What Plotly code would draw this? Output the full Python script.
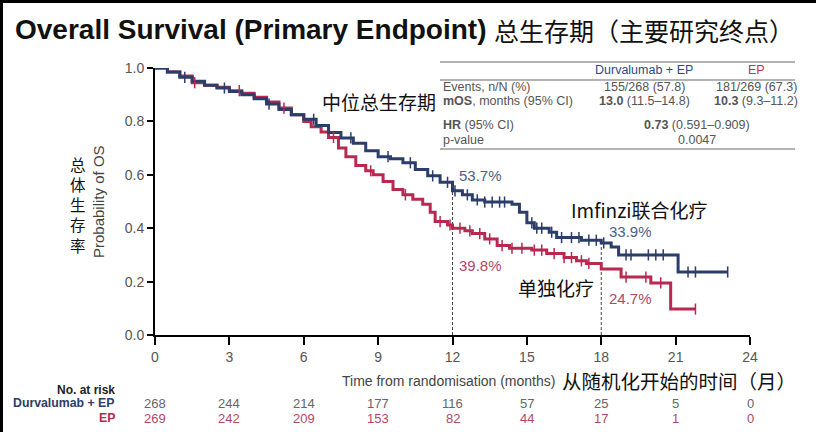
import numpy as np
import plotly.graph_objects as go

# ---------------- data ----------------
blue_t = [0, 0.5, 1.0, 1.5, 2.0, 2.5, 3.0, 3.5, 4.0, 4.5, 5.0, 5.5, 6.0, 6.5, 7.0, 7.5, 8.0, 8.5,
          9.0, 9.5, 10.0, 10.5, 11.0, 11.5, 12.0, 12.4, 12.8, 13.3, 14.4, 14.7, 15.0, 15.3, 15.9,
          16.2, 17.2, 18.0, 18.4, 18.7, 21.1, 23.1]
blue_s = [1.0, 0.985, 0.965, 0.95, 0.935, 0.925, 0.912, 0.90, 0.885, 0.865, 0.845, 0.825, 0.808,
          0.785, 0.758, 0.738, 0.718, 0.69, 0.668, 0.66, 0.645, 0.62, 0.596, 0.572, 0.54, 0.525,
          0.506, 0.498, 0.49, 0.46, 0.42, 0.40, 0.385, 0.365, 0.355, 0.345, 0.33, 0.30, 0.236, 0.236]

red_t = [0, 0.5, 1.0, 1.5, 2.0, 2.5, 3.0, 3.5, 4.0, 4.5, 5.0, 5.5, 6.0, 6.3, 6.7, 7.0, 7.4, 7.7,
         8.1, 8.5, 8.8, 9.2, 9.6, 10.0, 10.4, 10.8, 11.1, 11.3, 11.8, 12.0, 12.5, 12.8, 13.3, 13.8,
         14.3, 15.2, 15.8, 16.5, 17.0, 17.4, 18.0, 18.8, 20.0, 20.8, 21.8]
red_s = [1.0, 0.985, 0.97, 0.945, 0.935, 0.928, 0.915, 0.905, 0.89, 0.873, 0.85, 0.825, 0.80,
         0.78, 0.76, 0.74, 0.70, 0.668, 0.635, 0.615, 0.60, 0.575, 0.545, 0.525, 0.508, 0.49,
         0.46, 0.425, 0.412, 0.40, 0.39, 0.38, 0.36, 0.335, 0.325, 0.318, 0.305, 0.29, 0.278,
         0.268, 0.247, 0.217, 0.195, 0.097, 0.097]

blue_censor = [1.2, 2.8, 4.6, 6.4, 7.9, 9.4, 10.3, 11.2, 11.8, 12.1, 12.6, 13.0, 13.3, 13.6, 13.9,
               14.1, 15.2, 15.4, 15.6, 16.0, 16.4, 16.8, 17.1, 17.5, 17.8, 18.1, 19.0, 19.2,
               19.9, 20.2, 20.5, 21.5, 21.8, 23.1]
red_censor = [1.6, 3.4, 5.2, 7.2, 8.7, 10.1, 11.5, 11.9, 12.3, 12.7, 13.1, 13.5, 14.0, 14.4, 14.8,
              15.3, 15.6, 16.1, 16.5, 16.8, 17.2, 17.5, 19.0, 19.8, 20.4, 21.8]

landmark_months = [12, 18]
blue_landmark = [0.537, 0.339]
red_landmark = [0.398, 0.247]

risk_times = [0, 3, 6, 9, 12, 15, 18, 21, 24]
risk_blue = [268, 244, 214, 177, 116, 57, 25, 5, 0]
risk_red = [269, 242, 209, 153, 82, 44, 17, 1, 0]

BLUE = "#2b3d6b"
RED = "#b8284f"
BLUE_TXT = "#4d5f86"
RED_TXT = "#b0476a"
GRAY = "#555555"

W, H = 816, 432
L, R, T, B = 155, 66, 68, 97


def px(x):
    return (x - L) / (W - L - R)


def py(y):
    return (H - B - y) / (H - T - B)


def step_at(ts, ss, t):
    i = np.searchsorted(ts, t, side="right") - 1
    return ss[max(i, 0)]


SANS = "Liberation Sans, Arial, sans-serif"
NARROW = "Liberation Sans Narrow, Arial Narrow, Liberation Sans, Arial, sans-serif"
CJK = "Noto Sans CJK SC, sans-serif"

fig = go.Figure()

# dashed landmark lines
for m, v in zip(landmark_months, blue_landmark):
    fig.add_trace(go.Scatter(x=[m, m], y=[0, v], mode="lines",
                             line=dict(color="#444444", width=1, dash="3px,2px"),
                             hoverinfo="skip", showlegend=False))

fig.add_trace(go.Scatter(x=red_t, y=red_s, mode="lines", line=dict(color=RED, width=3, shape="hv"),
                         name="EP", showlegend=False))
fig.add_trace(go.Scatter(x=blue_t, y=blue_s, mode="lines", line=dict(color=BLUE, width=3, shape="hv"),
                         name="Durvalumab + EP", showlegend=False))

fig.add_trace(go.Scatter(x=red_censor, y=[step_at(red_t, red_s, t) for t in red_censor], mode="markers",
                         marker=dict(symbol="line-ns-open", size=8, color=RED,
                                     line=dict(color=RED, width=1.5)),
                         showlegend=False, hoverinfo="skip"))
fig.add_trace(go.Scatter(x=blue_censor, y=[step_at(blue_t, blue_s, t) for t in blue_censor], mode="markers",
                         marker=dict(symbol="line-ns-open", size=8, color=BLUE,
                                     line=dict(color=BLUE, width=1.5)),
                         showlegend=False, hoverinfo="skip"))

ann = []


def A(x, y, text, size=13, color=GRAY, family=SANS, xanchor="left", xref="paper", yref="paper", **kw):
    ann.append(dict(x=x, y=y, xref=xref, yref=yref, text=text, showarrow=False,
                    font=dict(size=size, color=color, family=family),
                    xanchor=xanchor, yanchor="middle", **kw))


# Title
A(px(13), py(29), "<b>Overall Survival (Primary Endpoint)</b>", size=28, color="#111111", family=SANS)
A(px(492), py(30), "总生存期（主要研究终点）", size=25, color="#111111", family=CJK)

# Stats table
TS = 12.5
C2, C3, CM = 644, 756, 697
A(px(C2), py(70), "Durvalumab + EP", size=TS, color="#2d4a85", xanchor="center")
A(px(C3), py(70), "EP", size=TS, color="#c0305a", xanchor="center")
A(px(441), py(87), "Events, n/N (%)", size=TS)
A(px(C2), py(87), "155/268 (57.8)", size=TS, xanchor="center")
A(px(C3), py(87), "181/269 (67.3)", size=TS, xanchor="center")
A(px(441), py(101), "<b>mOS</b>, months (95% CI)", size=TS)
A(px(C2), py(101), "<b>13.0</b> (11.5–14.8)", size=TS, xanchor="center")
A(px(C3), py(101), "<b>10.3</b> (9.3–11.2)", size=TS, xanchor="center")
A(px(441), py(125), "<b>HR</b> (95% CI)", size=TS)
A(px(CM), py(125), "<b>0.73</b> (0.591–0.909)", size=TS, xanchor="center")
A(px(441), py(140), "p-value", size=TS)
A(px(CM), py(140), "0.0047", size=TS, xanchor="center")

# Chinese labels
A(px(438), py(101), "中位总生存期", size=19, color="#111111", family=CJK, xanchor="right")
A(px(569), py(209), "Imfinzi联合化疗", size=19, color="#111111", family=CJK, height=22)
A(px(516), py(287), "单独化疗", size=19, color="#111111", family=CJK)

# Landmark percentages
A(landmark_months[0] + 0.2, py(175), f"{blue_landmark[0]*100:.1f}%", size=15, color=BLUE_TXT, xref="x")
A(landmark_months[0] + 0.2, py(265), f"{red_landmark[0]*100:.1f}%", size=15, color=RED_TXT, xref="x")
A(landmark_months[1] + 0.25, py(232), f"{blue_landmark[1]*100:.1f}%", size=15, color=BLUE_TXT, xref="x",
  height=17)
A(landmark_months[1] + 0.25, py(298), f"{red_landmark[1]*100:.1f}%", size=15, color=RED_TXT, xref="x")

# Y axis titles (stacked Chinese characters)
A(px(78), py(205), "<br>".join("总体生存率"), size=15.5, color="#111111", family=CJK, xanchor="center")
A(px(98), py(202), "Probability of OS", size=15, color="#444444", family=NARROW, xanchor="center",
  textangle=-90)

# X axis title
A(px(557), py(381), "Time from randomisation (months)", size=14, color="#444444", family=NARROW,
  xanchor="right")
A(px(560), py(380), "从随机化开始的时间（月）", size=19.5, color="#111111", family=CJK)

# Risk table
A(px(117), py(390), "<b>No. at risk</b>", size=12, color="#222222", family=NARROW, xanchor="right")
A(px(117), py(403), "<b>Durvalumab + EP</b>", size=12.3, color=BLUE, family=NARROW, xanchor="right")
A(px(117), py(418), "<b>EP</b>", size=12.3, color=RED, family=NARROW, xanchor="right")
for t, nb, nr in zip(risk_times, risk_blue, risk_red):
    A(t, py(403), str(nb), size=13, color="#666666", family=NARROW, xanchor="center", xref="x")
    A(t, py(418), str(nr), size=13, color=RED_TXT, family=NARROW, xanchor="center", xref="x")

shapes = [
    dict(type="line", xref="paper", yref="paper", x0=px(440), x1=px(795), y0=py(62), y1=py(62),
         line=dict(color="#666666", width=1)),
    dict(type="line", xref="paper", yref="paper", x0=px(440), x1=px(795), y0=py(80), y1=py(80),
         line=dict(color="#666666", width=1)),
    dict(type="line", xref="paper", yref="paper", x0=px(440), x1=px(795), y0=py(149), y1=py(149),
         line=dict(color="#666666", width=1)),
    # picture frame (left & top)
    dict(type="rect", xref="paper", yref="paper", x0=px(0), x1=px(3), y0=py(432), y1=py(0),
         fillcolor="#000000", line=dict(width=0)),
    dict(type="rect", xref="paper", yref="paper", x0=px(0), x1=px(816), y0=py(3), y1=py(0),
         fillcolor="#000000", line=dict(width=0)),
]

fig.update_layout(
    width=W, height=H,
    margin=dict(l=L, r=R, t=T, b=B, pad=0),
    paper_bgcolor="white", plot_bgcolor="white",
    annotations=ann, shapes=shapes,
    font=dict(family=SANS),
    xaxis=dict(range=[0, 24], tickvals=risk_times, ticks="outside", ticklen=8, tickwidth=2,
               tickcolor="black", showline=True, linecolor="black", linewidth=2, showgrid=False,
               zeroline=False, tickfont=dict(size=14, color="#555555", family=NARROW)),
    yaxis=dict(range=[0, 1.0], tickvals=[0, 0.2, 0.4, 0.6, 0.8, 1.0],
               ticktext=["0.0", "0.2", "0.4", "0.6", "0.8", "1.0"],
               ticks="outside", ticklen=6, tickwidth=2, tickcolor="black", showline=True,
               linecolor="black", linewidth=2, showgrid=False, zeroline=False,
               tickfont=dict(size=14, color="#555555", family=SANS)),
)

fig.write_html("out.html", config={"displayModeBar": False},
               post_script="document.body.style.margin='0';document.body.style.overflow='hidden';")
